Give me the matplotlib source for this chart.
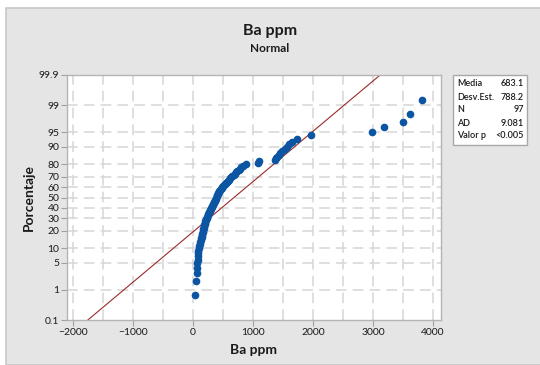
import numpy as np
import matplotlib
matplotlib.use("Agg")
import matplotlib.pyplot as plt
from matplotlib.patches import Rectangle
from statistics import NormalDist

# sorted Ba ppm values (97 samples)
ba_ppm = [
    33, 50, 60, 69, 74, 79, 82, 85, 89, 97,
    105, 114, 122, 129, 136, 143, 150, 156, 162, 168,
    174, 180, 185, 190, 195, 200, 205, 210, 220, 228,
    238, 247, 256, 264, 273, 282, 291, 299, 308, 316,
    324, 332, 341, 349, 357, 365, 374, 382, 390, 398,
    407, 415, 423, 431, 440, 448, 460, 475, 489, 505,
    519, 534, 550, 565, 580, 597, 615, 634, 654, 676,
    696, 717, 738, 759, 780, 801, 830, 880, 1075, 1095,
    1360, 1375, 1400, 1425, 1455, 1490, 1525, 1560, 1600, 1645,
    1728, 1960, 2978, 3190, 3505, 3617, 3822,
]

# summary shown in the legend box
stat_labels = ["Media", "Desv.Est.", "N", "AD", "Valor p"]
stat_values = ["683.1", "788.2", "97", "9.081", "<0.005"]
mean_fit = 683.1
sd_fit = 788.2

pct_ticks = [0.1, 1, 5, 10, 20, 30, 40, 50, 60, 70, 80, 90, 95, 99, 99.9]
x_ticks = [-2000, -1000, 0, 1000, 2000, 3000, 4000]

plt.rcParams['font.family'] = ['Lato', 'DejaVu Sans']
nd = NormalDist()
z = lambda p: nd.inv_cdf(p / 100.0)

fig = plt.figure(figsize=(5.4, 3.65), dpi=100)
fig.patch.set_facecolor("white")
# minitab style gray panel
fig.patches.append(Rectangle((6 / 540, 0), 1, 1 - 8 / 365, transform=fig.transFigure,
                             facecolor="#e5e5e5", edgecolor="#c8c8c8", lw=1.2, zorder=-1))

ax = fig.add_axes([67 / 540, 1 - 320 / 365, (441 - 67) / 540, (320 - 75) / 365])
ax.set_facecolor("white")

n = len(ba_ppm)
ranks = np.arange(1, n + 1)
pcts = (ranks - 0.3) / (n + 0.4) * 100
zs = [z(p) for p in pcts]

zlo, zhi = z(0.1), z(99.9)
ax.plot([mean_fit + sd_fit * zlo, mean_fit + sd_fit * zhi], [zlo, zhi],
        color="#9b2a2a", lw=0.8, zorder=2)
ax.plot(ba_ppm, zs, "o", color="#0b55a3", ms=4.5, mec="#0b55a3", zorder=3)

ax.set_xlim(-2100, 4133)
ax.set_ylim(zlo, zhi)
ax.set_xticks(x_ticks)
ax.set_yticks([z(p) for p in pct_ticks])
ax.set_yticklabels([("%g" % p) for p in pct_ticks])
ax.tick_params(axis="both", labelsize=7.5, colors="#a0a0a0", labelcolor="#1a1a1a",
               length=4, width=0.8, pad=1.5)

for xv in np.arange(-2000, 4001, 500):
    ax.axvline(xv, color="#d6d6d6", lw=1.1, dashes=(7, 4), zorder=1)
for p in pct_ticks[1:-1]:
    ax.axhline(z(p), color="#d6d6d6", lw=1.1, dashes=(7, 4), zorder=1)

for s in ax.spines.values():
    s.set_color("#b4b4b4")
    s.set_linewidth(1)

ax.set_xlabel("Ba ppm", fontsize=10, fontweight="bold", labelpad=5, color="#1a1a1a")
ax.set_ylabel("Porcentaje", fontsize=10, fontweight="bold", labelpad=3, color="#1a1a1a")

fig.text(270 / 540, 1 - 31 / 365, "Ba ppm", ha="center", va="center",
         fontsize=11.5, fontweight="bold", color="#1a1a1a")
fig.text(270 / 540, 1 - 48 / 365, "Normal", ha="center", va="center",
         fontsize=8.5, fontweight="bold", color="#1a1a1a")

# stats box
fig.patches.append(Rectangle((453 / 540, 1 - 145 / 365), 74 / 540, 70 / 365,
                             transform=fig.transFigure, facecolor="white",
                             edgecolor="#a8a8a8", lw=1))
for k, (lab, val) in enumerate(zip(stat_labels, stat_values)):
    yy = 1 - (84 + 13 * k) / 365
    fig.text(457 / 540, yy, lab, ha="left", va="center", fontsize=6.5,
             fontweight="semibold", color="#1a1a1a")
    fig.text(524 / 540, yy, val, ha="right", va="center", fontsize=6.5,
             fontweight="semibold", color="#1a1a1a")

fig.savefig("out.png", dpi=100)
